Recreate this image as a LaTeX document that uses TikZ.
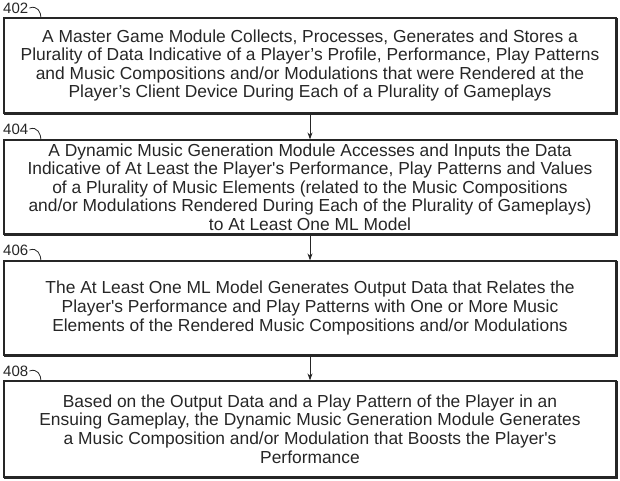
\documentclass[tikz,border=0pt]{standalone}
\usepackage{fontspec}
\setmainfont{Liberation Sans}
\usetikzlibrary{arrows.meta}
\newcommand{\sq}{\textquotesingle}
\tikzset{
  x=1pt, y=-1pt,
  stepbox/.style={draw=black!85, line width=1.2pt, rectangle, minimum width=612pt,
    align=center, inner sep=0pt, font=\fontsize{17.4}{18.6}\selectfont, text=black!85},
  reflabel/.style={font=\fontsize{15}{16}\selectfont, text=black!85, inner sep=0pt},
  hook/.style={draw=black!85, line width=0.8pt},
  shadowline/.style={draw=black!85, line width=1pt},
  flow/.style={draw=black!85, line width=0.9pt, -{Stealth[length=7pt,width=5pt]}}
}
\begin{document}
\begin{tikzpicture}
\useasboundingbox (0,0) rectangle (620,481);
\node[stepbox, minimum height=95pt] (b1) at (310,65.5) {A Master Game Module Collects, Processes, Generates and Stores a\\Plurality of Data Indicative of a Player’s Profile, Performance, Play Patterns\\and Music Compositions and/or Modulations that were Rendered at the\\Player’s Client Device During Each of a Plurality of Gameplays};
\node[stepbox, minimum height=94pt] (b2) at (310,187) {A Dynamic Music Generation Module Accesses and Inputs the Data\\Indicative of At Least the Player\sq s Performance, Play Patterns and Values\\of a Plurality of Music Elements (related to the Music Compositions\\and/or Modulations Rendered During Each of the Plurality of Gameplays)\\to At Least One ML Model};
\node[stepbox, minimum height=94pt] (b3) at (310,308) {The At Least One ML Model Generates Output Data that Relates the\\Player\sq s Performance and Play Patterns with One or More Music\\Elements of the Rendered Music Compositions and/or Modulations};
\node[stepbox, minimum height=96pt] (b4) at (310,429) {\raisebox{0pt}[\height][0pt]{}Based on the Output Data and a Play Pattern of the Player in an\\Ensuing Gameplay, the Dynamic Music Generation Module Generates\\a Music Composition and/or Modulation that Boosts the Player\sq s\\Performance};

\foreach \i in {1,2,3,4}{
  \draw[shadowline] ([xshift=1pt,yshift=-1pt]b\i.south west) -- ([xshift=1pt,yshift=-1pt]b\i.south east) -- ([xshift=1pt,yshift=-1pt]b\i.north east);
}

\node[reflabel, anchor=west] (l1) at (3,8) {402};
\node[reflabel, anchor=west] (l2) at (3,129) {404};
\node[reflabel, anchor=west] (l3) at (3,250) {406};
\node[reflabel, anchor=west] (l4) at (3,371) {408};

\coordinate (h1) at (41,18);
\coordinate (h2) at (41,140);
\coordinate (h3) at (41,261);
\coordinate (h4) at (41,381);

\foreach \i in {1,2,3,4}{
  \draw[hook] ([xshift=1pt]l\i.east) .. controls +(8,-3) and +(0,-6) .. (h\i);
}

\draw[flow] (b1.south) -- (b2.north);
\draw[flow] (b2.south) -- (b3.north);
\draw[flow] (b3.south) -- (b4.north);
\end{tikzpicture}
\end{document}
